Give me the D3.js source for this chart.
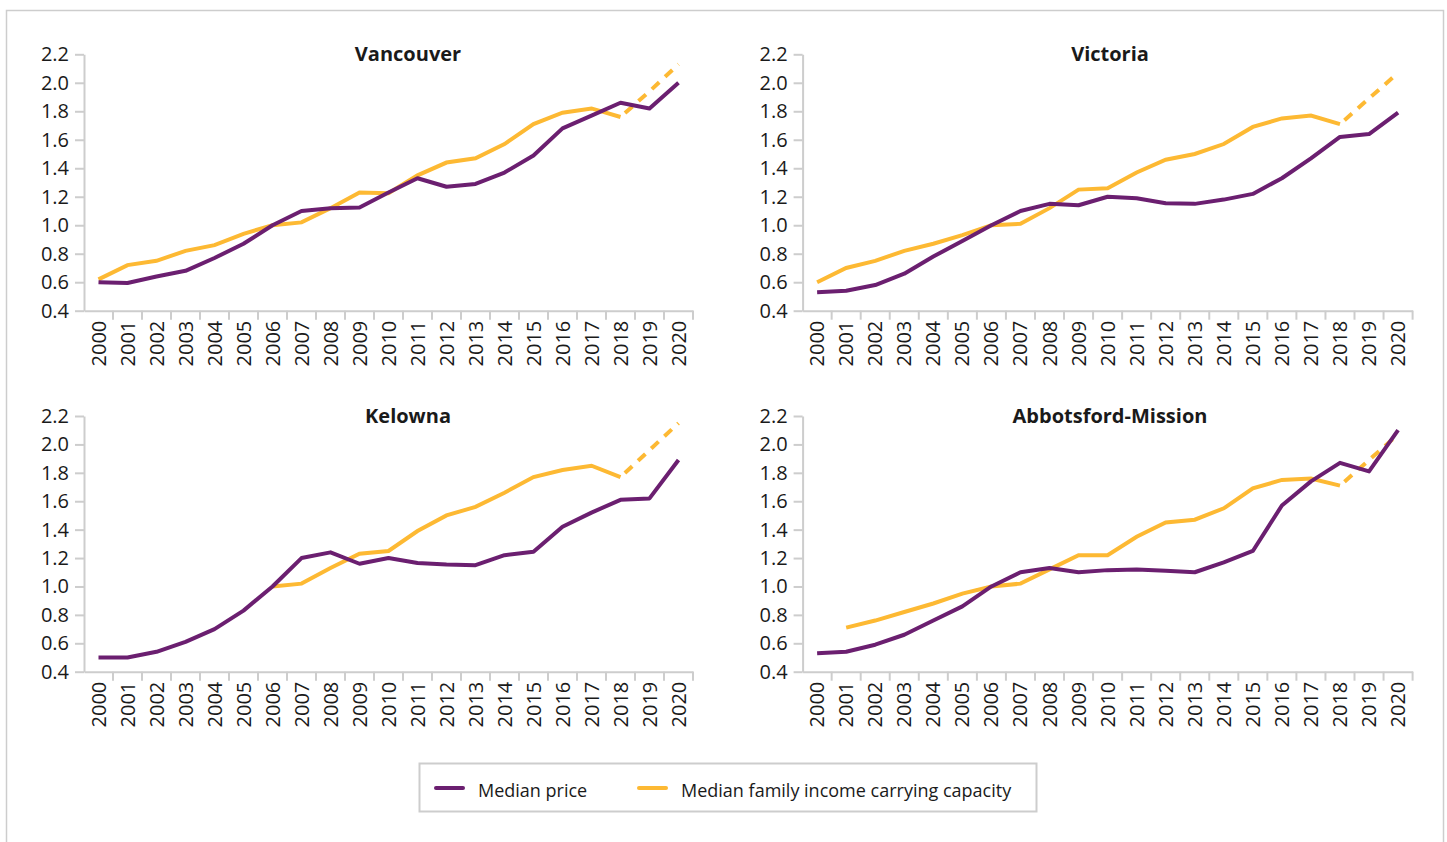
<!DOCTYPE html>
<html>

<head>
  <meta charset="UTF-8">
  <script src="https://d3js.org/d3.v7.js"></script>
  <style>
    body { margin: 0; background: #fff; }
    text { font-family: "Open Sans", "Noto Sans", sans-serif; fill: #1a1a1a; }
  </style>
</head>

<body>
  <div id="chart"></div>

  <script>
    // data

    const years = d3.range(2000, 2021).map(String);
    const yTicks = [0.4, 0.6, 0.8, 1.0, 1.2, 1.4, 1.6, 1.8, 2.0, 2.2];

    const regions = ["Vancouver", "Victoria", "Kelowna", "Abbotsford-Mission"];

    // median price, 2000..2020
    const vancouverPrice = [0.60, 0.595, 0.64, 0.68, 0.77, 0.87, 1.00, 1.10, 1.12, 1.125, 1.23, 1.33, 1.27, 1.29, 1.37, 1.49, 1.68, 1.77, 1.86, 1.82, 2.00];
    const victoriaPrice = [0.53, 0.54, 0.58, 0.66, 0.78, 0.89, 1.00, 1.10, 1.15, 1.14, 1.20, 1.19, 1.155, 1.15, 1.18, 1.22, 1.33, 1.47, 1.62, 1.64, 1.79];
    const kelownaPrice = [0.50, 0.50, 0.54, 0.61, 0.70, 0.83, 1.00, 1.20, 1.24, 1.16, 1.20, 1.165, 1.155, 1.15, 1.22, 1.245, 1.42, 1.52, 1.61, 1.62, 1.89];
    const abbotsfordPrice = [0.53, 0.54, 0.59, 0.66, 0.76, 0.86, 1.00, 1.10, 1.13, 1.10, 1.115, 1.12, 1.11, 1.10, 1.17, 1.25, 1.57, 1.74, 1.87, 1.81, 2.10];

    // median family income carrying capacity, 2000..2018 (null = no data)
    const vancouverIncome = [0.62, 0.72, 0.75, 0.82, 0.86, 0.94, 1.00, 1.02, 1.12, 1.23, 1.225, 1.35, 1.44, 1.47, 1.57, 1.71, 1.79, 1.82, 1.76];
    const victoriaIncome = [0.60, 0.70, 0.75, 0.82, 0.87, 0.93, 1.00, 1.01, 1.12, 1.25, 1.26, 1.37, 1.46, 1.50, 1.57, 1.69, 1.75, 1.77, 1.71];
    const kelownaIncome = [null, null, null, null, null, null, 1.00, 1.02, 1.13, 1.23, 1.25, 1.39, 1.50, 1.56, 1.66, 1.77, 1.82, 1.85, 1.77];
    const abbotsfordIncome = [null, 0.71, 0.76, 0.82, 0.88, 0.95, 1.00, 1.02, 1.12, 1.22, 1.22, 1.35, 1.45, 1.47, 1.55, 1.69, 1.75, 1.76, 1.71];

    // projected income carrying capacity, 2018..2020 (dashed)
    const vancouverProjected = [1.76, 1.94, 2.13];
    const victoriaProjected = [1.71, 1.89, 2.07];
    const kelownaProjected = [1.77, 1.96, 2.15];
    const abbotsfordProjected = [1.71, 1.89, 2.07];

    const projectedYears = ["2018", "2019", "2020"];

    const seriesNames = ["Median price", "Median family income carrying capacity"];

    const panels = [
      { name: regions[0], col: 0, row: 0, price: vancouverPrice, income: vancouverIncome, projected: vancouverProjected },
      { name: regions[1], col: 1, row: 0, price: victoriaPrice, income: victoriaIncome, projected: victoriaProjected },
      { name: regions[2], col: 0, row: 1, price: kelownaPrice, income: kelownaIncome, projected: kelownaProjected },
      { name: regions[3], col: 1, row: 1, price: abbotsfordPrice, income: abbotsfordIncome, projected: abbotsfordProjected },
    ];

    // set up

    const W = 1447, H = 842;
    const purple = '#6b1f70';
    const yellow = '#fdb933';
    const grey = '#cdcdcd';

    const colX = [[84, 693], [802.6, 1412.6]];
    const rowY = [[54.3, 310.7], [416, 671.7]];
    const titleX = [408, 1110];

    const svg = d3.select('#chart')
      .append('svg')
        .attr('width', W)
        .attr('height', H);

    // outer frame
    svg.append('rect')
      .attr('x', 6.5).attr('y', 10.5)
      .attr('width', 1437).attr('height', 900)
      .attr('fill', 'none')
      .attr('stroke', grey)
      .attr('stroke-width', 1.5);

    const color = d3.scaleOrdinal().domain(seriesNames).range([purple, yellow]);

    panels.forEach(p => {
      const x = d3.scaleBand()
        .domain(years)
        .range(colX[p.col])
        .padding(0);

      const y = d3.scaleLinear()
        .domain([0.4, 2.2])
        .range([rowY[p.row][1], rowY[p.row][0]]);

      const g = svg.append('g');
      const cx = d => x(d) + x.bandwidth() / 2;

      // y axis
      g.append('g')
        .attr('transform', `translate(${colX[p.col][0]},0)`)
        .call(d3.axisLeft(y).tickValues(yTicks).tickSize(9).tickSizeOuter(0).tickPadding(6).tickFormat(d3.format('.1f')))
        .call(a => a.selectAll('.domain, line').attr('stroke', grey).attr('stroke-width', 2))
        .call(a => a.selectAll('text').style('font-size', '20px').attr('fill', '#1a1a1a'));

      // x axis
      g.append('g')
        .attr('transform', `translate(0,${rowY[p.row][1]})`)
        .call(d3.axisBottom(x).tickSize(0).tickSizeOuter(0))
        .call(a => a.select('.domain').attr('stroke', grey).attr('stroke-width', 2))
        .call(a => a.selectAll('text')
          .style('font-size', '20px')
          .attr('fill', '#1a1a1a')
          .attr('text-anchor', 'end')
          .attr('transform', 'rotate(-90)')
          .attr('x', -10)
          .attr('y', 0)
          .attr('dy', '0.35em'));

      // category boundary ticks
      g.append('g')
        .selectAll('line')
        .data(years)
        .join('line')
          .attr('x1', d => x(d) + x.bandwidth())
          .attr('x2', d => x(d) + x.bandwidth())
          .attr('y1', rowY[p.row][1])
          .attr('y2', rowY[p.row][1] + 9)
          .attr('stroke', grey)
          .attr('stroke-width', 2);

      // title
      g.append('text')
        .attr('x', titleX[p.col])
        .attr('y', rowY[p.row][0] + 7)
        .attr('text-anchor', 'middle')
        .style('font-size', '20px')
        .style('font-weight', 700)
        .text(p.name);

      const line = d3.line()
        .defined(d => d[1] != null)
        .x(d => cx(d[0]))
        .y(d => y(d[1]));

      // income carrying capacity
      g.append('path')
        .datum(years.slice(0, p.income.length).map((yr, i) => [yr, p.income[i]]))
        .attr('d', line)
        .attr('fill', 'none')
        .attr('stroke', color(seriesNames[1]))
        .attr('stroke-width', 4);

      g.append('path')
        .datum(projectedYears.map((yr, i) => [yr, p.projected[i]]))
        .attr('d', line)
        .attr('fill', 'none')
        .attr('stroke', color(seriesNames[1]))
        .attr('stroke-width', 4)
        .attr('stroke-dasharray', '10,8')
        .attr('stroke-dashoffset', -6);

      // median price
      g.append('path')
        .datum(years.map((yr, i) => [yr, p.price[i]]))
        .attr('d', line)
        .attr('fill', 'none')
        .attr('stroke', color(seriesNames[0]))
        .attr('stroke-width', 4)
        .attr('stroke-linejoin', 'round');
    });

    // legend

    const legend = svg.append('g');
    legend.append('rect')
      .attr('x', 419.5).attr('y', 763.5)
      .attr('width', 617).attr('height', 48)
      .attr('fill', 'none')
      .attr('stroke', grey)
      .attr('stroke-width', 2);

    const legendX = [436, 639];
    seriesNames.forEach((s, i) => {
      legend.append('line')
        .attr('x1', legendX[i]).attr('x2', legendX[i] + 27)
        .attr('y1', 788).attr('y2', 788)
        .attr('stroke', color(s))
        .attr('stroke-width', 4)
        .attr('stroke-linecap', 'round');
      legend.append('text')
        .attr('x', legendX[i] + 42)
        .attr('y', 797)
        .style('font-size', '18px')
        .text(s);
    });
  </script>
</body>

</html>
